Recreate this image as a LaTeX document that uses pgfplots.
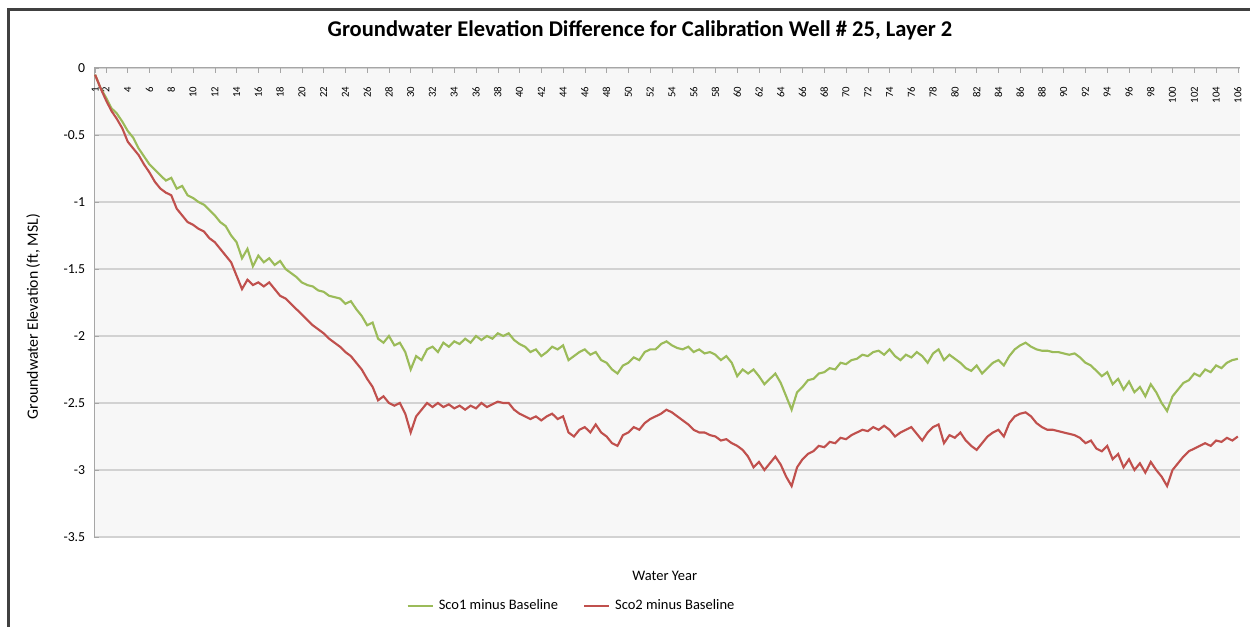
\documentclass[border=0pt]{standalone}
\usepackage{pgfplots}
\pgfplotsset{compat=1.18}
\usepackage{fontspec}
\setmainfont{Carlito}
\definecolor{scoA}{HTML}{9BBB59}
\definecolor{scoB}{HTML}{C0504D}
\begin{document}
\begin{tikzpicture}
\useasboundingbox (0pt,0pt) rectangle (500pt,250.8pt);
\fill[white] (0pt,0pt) rectangle (500pt,250.8pt);
\draw[line width=1.2pt, black!75] (3.2pt,-2pt) -- (3.2pt,246.8pt) -- (502pt,246.8pt);
\node[font=\bfseries\fontsize{9}{10}\selectfont] at (256pt,238.8pt) {Groundwater Elevation Difference for Calibration Well \# 25, Layer 2};
\begin{axis}[
  at={(37.6pt,36pt)}, anchor=south west,
  scale only axis, width=458.4pt, height=187.6pt,
  xmin=0.9, xmax=106.2, ymin=-3.5, ymax=0,
  axis background/.style={fill=gray!6},
  /pgf/number format/assume math mode=true,
  ytick={0,-0.5,-1,-1.5,-2,-2.5,-3,-3.5},
  yticklabels={0,-0.5,-1,-1.5,-2,-2.5,-3,-3.5},
  yticklabel style={font=\fontsize{5.5}{6}\selectfont},
  ymajorgrids, grid style={gray!35, line width=0.5pt},
  xtick={1,2,4,6,8,10,12,14,16,18,20,22,24,26,28,30,32,34,36,38,40,42,44,46,48,50,52,54,56,58,60,62,64,66,68,70,72,74,76,78,80,82,84,86,88,90,92,94,96,98,100,102,104,106},
  xticklabel pos=upper,
  xticklabel style={font=\fontsize{4.3}{5}\selectfont, rotate=90, anchor=east},
  xticklabel shift=-4pt,
  x tick style={gray!70}, y tick style={gray!70},
  major tick length=2pt,
  axis line style={gray!70},
  axis x line*=top, axis y line*=left,
  xlabel={Water Year},
  xlabel style={font=\fontsize{5.8}{7}\selectfont, at={(axis description cs:0.498,-0.083)}, anchor=center},
  ylabel={Groundwater Elevation (ft, MSL)},
  ylabel style={font=\fontsize{6.3}{7}\selectfont, at={(axis description cs:-0.053,0.47)}, anchor=center},
  legend columns=2,
  legend style={draw=none, fill=none, font=\fontsize{5.8}{7}\selectfont, at={(axis description cs:0.418,-0.147)}, anchor=center, /tikz/every even column/.append style={column sep=8pt}},
  legend image code/.code={\draw[#1] (0pt,0pt) -- (10pt,0pt);},
]
\addplot[scoA, line width=0.85pt] coordinates {
(1,-0.05)(1.5,-0.15)(2,-0.22)(2.5,-0.3)(3,-0.34)(3.5,-0.4)(4,-0.47)(4.5,-0.52)(5,-0.6)(5.5,-0.66)
(6,-0.72)(6.5,-0.76)(7,-0.8)(7.5,-0.84)(8,-0.82)(8.5,-0.9)(9,-0.88)(9.5,-0.95)(10,-0.97)(10.5,-1.0)
(11,-1.02)(11.5,-1.06)(12,-1.1)(12.5,-1.15)(13,-1.18)(13.5,-1.25)(14,-1.3)(14.5,-1.42)(15,-1.35)(15.5,-1.48)
(16,-1.4)(16.5,-1.45)(17,-1.42)(17.5,-1.47)(18,-1.44)(18.5,-1.5)(19,-1.53)(19.5,-1.56)(20,-1.6)(20.5,-1.62)
(21,-1.63)(21.5,-1.66)(22,-1.67)(22.5,-1.7)(23,-1.71)(23.5,-1.72)(24,-1.76)(24.5,-1.74)(25,-1.8)(25.5,-1.85)
(26,-1.92)(26.5,-1.9)(27,-2.02)(27.5,-2.05)(28,-2.0)(28.5,-2.07)(29,-2.05)(29.5,-2.12)(30,-2.25)(30.5,-2.15)
(31,-2.18)(31.5,-2.1)(32,-2.08)(32.5,-2.12)(33,-2.05)(33.5,-2.08)(34,-2.04)(34.5,-2.06)(35,-2.02)(35.5,-2.05)
(36,-2.0)(36.5,-2.03)(37,-2.0)(37.5,-2.02)(38,-1.98)(38.5,-2.0)(39,-1.98)(39.5,-2.03)(40,-2.06)(40.5,-2.08)
(41,-2.12)(41.5,-2.1)(42,-2.15)(42.5,-2.12)(43,-2.08)(43.5,-2.1)(44,-2.07)(44.5,-2.18)(45,-2.15)(45.5,-2.12)
(46,-2.1)(46.5,-2.14)(47,-2.12)(47.5,-2.18)(48,-2.2)(48.5,-2.25)(49,-2.28)(49.5,-2.22)(50,-2.2)(50.5,-2.16)
(51,-2.18)(51.5,-2.12)(52,-2.1)(52.5,-2.1)(53,-2.06)(53.5,-2.04)(54,-2.07)(54.5,-2.09)(55,-2.1)(55.5,-2.08)
(56,-2.12)(56.5,-2.1)(57,-2.13)(57.5,-2.12)(58,-2.14)(58.5,-2.18)(59,-2.15)(59.5,-2.2)(60,-2.3)(60.5,-2.25)
(61,-2.28)(61.5,-2.25)(62,-2.3)(62.5,-2.36)(63,-2.32)(63.5,-2.28)(64,-2.35)(64.5,-2.45)(65,-2.55)(65.5,-2.42)
(66,-2.38)(66.5,-2.33)(67,-2.32)(67.5,-2.28)(68,-2.27)(68.5,-2.24)(69,-2.25)(69.5,-2.2)(70,-2.21)(70.5,-2.18)
(71,-2.17)(71.5,-2.14)(72,-2.15)(72.5,-2.12)(73,-2.11)(73.5,-2.14)(74,-2.1)(74.5,-2.15)(75,-2.18)(75.5,-2.14)
(76,-2.16)(76.5,-2.12)(77,-2.15)(77.5,-2.2)(78,-2.13)(78.5,-2.1)(79,-2.18)(79.5,-2.14)(80,-2.17)(80.5,-2.2)
(81,-2.24)(81.5,-2.26)(82,-2.22)(82.5,-2.28)(83,-2.24)(83.5,-2.2)(84,-2.18)(84.5,-2.22)(85,-2.15)(85.5,-2.1)
(86,-2.07)(86.5,-2.05)(87,-2.08)(87.5,-2.1)(88,-2.11)(88.5,-2.11)(89,-2.12)(89.5,-2.12)(90,-2.13)(90.5,-2.14)
(91,-2.13)(91.5,-2.16)(92,-2.2)(92.5,-2.22)(93,-2.26)(93.5,-2.3)(94,-2.27)(94.5,-2.36)(95,-2.32)(95.5,-2.4)
(96,-2.34)(96.5,-2.42)(97,-2.38)(97.5,-2.45)(98,-2.36)(98.5,-2.42)(99,-2.5)(99.5,-2.56)(100,-2.45)(100.5,-2.4)
(101,-2.35)(101.5,-2.33)(102,-2.28)(102.5,-2.3)(103,-2.25)(103.5,-2.27)(104,-2.22)(104.5,-2.24)(105,-2.2)(105.5,-2.18)
(106,-2.17)
};
\addlegendentry{Sco1 minus Baseline}
\addplot[scoB, line width=0.85pt] coordinates {
(1,-0.05)(1.5,-0.15)(2,-0.24)(2.5,-0.32)(3,-0.38)(3.5,-0.45)(4,-0.55)(4.5,-0.6)(5,-0.65)(5.5,-0.72)
(6,-0.78)(6.5,-0.85)(7,-0.9)(7.5,-0.93)(8,-0.95)(8.5,-1.05)(9,-1.1)(9.5,-1.15)(10,-1.17)(10.5,-1.2)
(11,-1.22)(11.5,-1.27)(12,-1.3)(12.5,-1.35)(13,-1.4)(13.5,-1.45)(14,-1.55)(14.5,-1.65)(15,-1.58)(15.5,-1.62)
(16,-1.6)(16.5,-1.63)(17,-1.6)(17.5,-1.65)(18,-1.7)(18.5,-1.72)(19,-1.76)(19.5,-1.8)(20,-1.84)(20.5,-1.88)
(21,-1.92)(21.5,-1.95)(22,-1.98)(22.5,-2.02)(23,-2.05)(23.5,-2.08)(24,-2.12)(24.5,-2.15)(25,-2.2)(25.5,-2.25)
(26,-2.32)(26.5,-2.38)(27,-2.48)(27.5,-2.45)(28,-2.5)(28.5,-2.52)(29,-2.5)(29.5,-2.58)(30,-2.72)(30.5,-2.6)
(31,-2.55)(31.5,-2.5)(32,-2.53)(32.5,-2.5)(33,-2.53)(33.5,-2.51)(34,-2.54)(34.5,-2.52)(35,-2.55)(35.5,-2.52)
(36,-2.54)(36.5,-2.5)(37,-2.53)(37.5,-2.51)(38,-2.49)(38.5,-2.5)(39,-2.5)(39.5,-2.55)(40,-2.58)(40.5,-2.6)
(41,-2.62)(41.5,-2.6)(42,-2.63)(42.5,-2.6)(43,-2.58)(43.5,-2.62)(44,-2.6)(44.5,-2.72)(45,-2.75)(45.5,-2.7)
(46,-2.68)(46.5,-2.72)(47,-2.66)(47.5,-2.72)(48,-2.75)(48.5,-2.8)(49,-2.82)(49.5,-2.74)(50,-2.72)(50.5,-2.68)
(51,-2.7)(51.5,-2.65)(52,-2.62)(52.5,-2.6)(53,-2.58)(53.5,-2.55)(54,-2.57)(54.5,-2.6)(55,-2.63)(55.5,-2.66)
(56,-2.7)(56.5,-2.72)(57,-2.72)(57.5,-2.74)(58,-2.75)(58.5,-2.78)(59,-2.77)(59.5,-2.8)(60,-2.82)(60.5,-2.85)
(61,-2.9)(61.5,-2.98)(62,-2.94)(62.5,-3.0)(63,-2.95)(63.5,-2.9)(64,-2.96)(64.5,-3.05)(65,-3.12)(65.5,-2.98)
(66,-2.92)(66.5,-2.88)(67,-2.86)(67.5,-2.82)(68,-2.83)(68.5,-2.79)(69,-2.8)(69.5,-2.76)(70,-2.77)(70.5,-2.74)
(71,-2.72)(71.5,-2.7)(72,-2.71)(72.5,-2.68)(73,-2.7)(73.5,-2.67)(74,-2.7)(74.5,-2.75)(75,-2.72)(75.5,-2.7)
(76,-2.68)(76.5,-2.73)(77,-2.78)(77.5,-2.72)(78,-2.68)(78.5,-2.66)(79,-2.8)(79.5,-2.74)(80,-2.76)(80.5,-2.72)
(81,-2.78)(81.5,-2.82)(82,-2.85)(82.5,-2.8)(83,-2.75)(83.5,-2.72)(84,-2.7)(84.5,-2.75)(85,-2.65)(85.5,-2.6)
(86,-2.58)(86.5,-2.57)(87,-2.6)(87.5,-2.65)(88,-2.68)(88.5,-2.7)(89,-2.7)(89.5,-2.71)(90,-2.72)(90.5,-2.73)
(91,-2.74)(91.5,-2.76)(92,-2.8)(92.5,-2.78)(93,-2.84)(93.5,-2.86)(94,-2.82)(94.5,-2.92)(95,-2.88)(95.5,-2.98)
(96,-2.92)(96.5,-3.0)(97,-2.95)(97.5,-3.02)(98,-2.94)(98.5,-3.0)(99,-3.05)(99.5,-3.12)(100,-3.0)(100.5,-2.95)
(101,-2.9)(101.5,-2.86)(102,-2.84)(102.5,-2.82)(103,-2.8)(103.5,-2.82)(104,-2.78)(104.5,-2.79)(105,-2.76)(105.5,-2.78)
(106,-2.75)
};
\addlegendentry{Sco2 minus Baseline}
\end{axis}
\end{tikzpicture}
\end{document}
